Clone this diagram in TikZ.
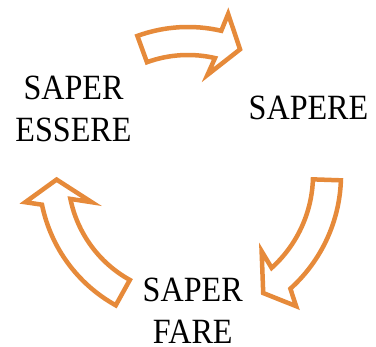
\documentclass[tikz,border=0pt]{standalone}
\usepackage{fontspec}
\setmainfont[FakeStretch=0.905]{Liberation Serif}
\definecolor{arroworange}{HTML}{E68A3A}
\begin{document}
\begin{tikzpicture}[x=1pt,y=1pt,
  cyclearrow/.style={draw=arroworange, line width=4.5pt, fill=white},
  label/.style={font=\fontsize{35.5}{42.4}\selectfont, align=center, inner sep=0pt}]
\useasboundingbox (0,0) rectangle (376,347);
\begin{scope}[shift={(188,172)}]
  % top arrow: SAPER ESSERE -> SAPERE
  \draw[cyclearrow] (110:148) arc[start angle=110, end angle=77, radius=148]
    -- (76:166) -- (67.5:136) -- (79:102) -- (77:120)
    arc[start angle=77, end angle=110, radius=120] -- cycle;
  % right arrow: SAPERE -> SAPER FARE
  \draw[cyclearrow] (-2:153) arc[start angle=-2, end angle=-48, radius=153]
    -- (-50.5:170) -- (-57.5:140) -- (-46:106) -- (-48:125)
    arc[start angle=-48, end angle=-2, radius=125] -- cycle;
  % left arrow: SAPER FARE -> SAPER ESSERE
  \draw[cyclearrow] (241:149) arc[start angle=241, end angle=191.5, radius=149]
    -- (189.5:165) -- (182:131.5) -- (195.8:100) -- (191.5:120)
    arc[start angle=191.5, end angle=241, radius=120] -- cycle;
\end{scope}
\node[label, anchor=base] (essere) at (73.5,205.3) {SAPER\\ESSERE};
\node[label, anchor=base] (sapere) at (308.5,227.7) {SAPERE};
\node[label, anchor=base, text depth=0pt] (fare) at (192.7,3.5) {SAPER\\FARE};
\end{tikzpicture}
\end{document}
